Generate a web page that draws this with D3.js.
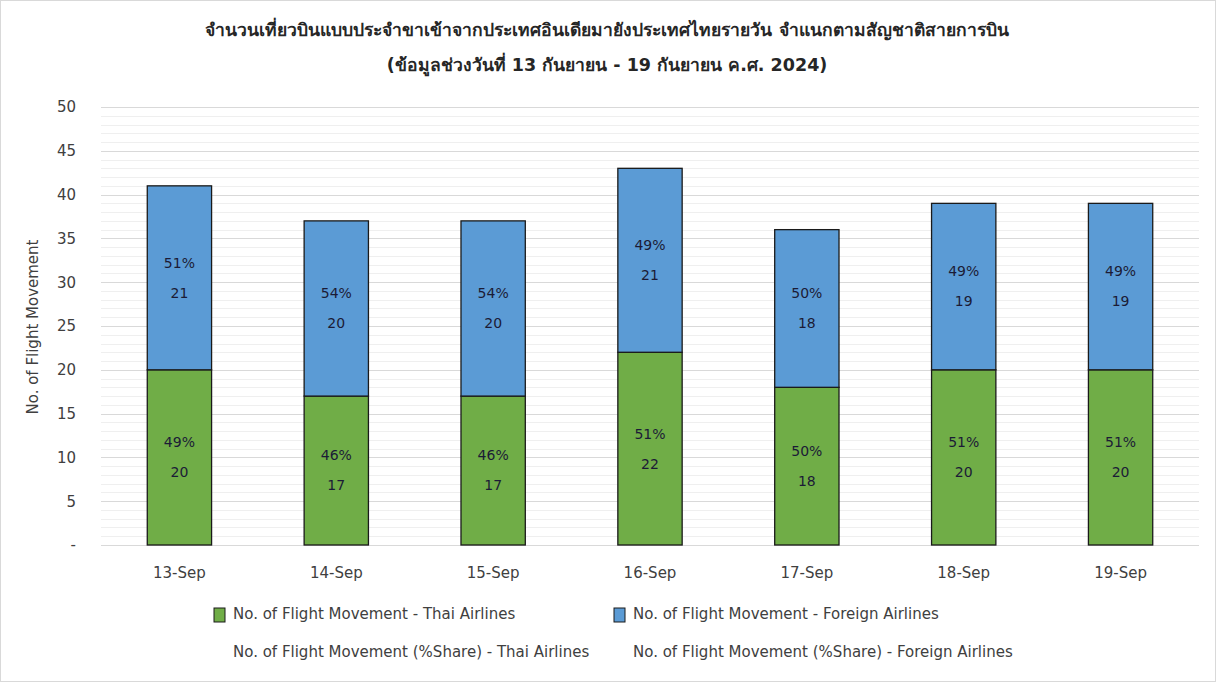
<!DOCTYPE html>
<html>
<head>
<meta charset="utf-8">
<script src="https://cdn.jsdelivr.net/npm/d3@7"></script>
<style>
  body { margin: 0; background: #fff; }
  svg { display: block; font-family: Tahoma, "DejaVu Sans", "Noto Sans", sans-serif; }
</style>
</head>
<body>
<svg width="1216" height="682"></svg>
<script>
// data
const dias = ["13-Sep", "14-Sep", "15-Sep", "16-Sep", "17-Sep", "18-Sep", "19-Sep"];
const thai = [20, 17, 17, 22, 18, 20, 20];
const foreign = [21, 20, 20, 21, 18, 19, 19];
const thaiShare = ["49%", "46%", "46%", "51%", "50%", "51%", "51%"];
const foreignShare = ["51%", "54%", "54%", "49%", "50%", "49%", "49%"];
const yTicks = [0, 5, 10, 15, 20, 25, 30, 35, 40, 45, 50];

const titulo1 = "จำนวนเที่ยวบินแบบประจำขาเข้าจากประเทศอินเดียมายังประเทศไทยรายวัน  จำแนกตามสัญชาติสายการบิน";
const titulo2 = "(ข้อมูลช่วงวันที่ 13 กันยายน - 19 กันยายน ค.ศ. 2024)";

const cores = { thai: "#70ad47", foreign: "#5b9bd5" };

const svg = d3.select("svg");
const W = 1216, H = 682;
const m = { left: 101, right: 1199, top: 107, bottom: 545 };
const fonte = "Tahoma, 'DejaVu Sans', sans-serif";

svg.append("rect").attr("x", 0.5).attr("y", 0.5).attr("width", W - 1).attr("height", H - 1)
  .attr("fill", "#fff").attr("stroke", "#d9d9d9");

const x = d3.scaleBand().domain(dias).range([m.left, m.right]).paddingInner(0.59).paddingOuter(0.295);
const y = d3.scaleLinear().domain([0, 50]).range([m.bottom, m.top]);

// grid (major every 5, minor every 1)
svg.append("g").selectAll("line").data(d3.range(0, 51))
  .join("line")
  .attr("x1", m.left).attr("x2", m.right)
  .attr("y1", d => Math.round(y(d)) + 0.5).attr("y2", d => Math.round(y(d)) + 0.5)
  .attr("stroke", d => d % 5 === 0 ? "#d9d9d9" : "#efefef")
  .attr("stroke-width", 1);

// y axis labels
const yAxis = d3.axisLeft(y).tickValues(yTicks).tickSize(0).tickPadding(0)
  .tickFormat(d => d === 0 ? "-" : d);
const gy = svg.append("g").attr("transform", `translate(76,0)`).call(yAxis);
gy.select(".domain").remove();
gy.selectAll("text").attr("font-size", 15).attr("fill", "#404040").attr("font-family", fonte);

// x axis labels
const xAxis = d3.axisBottom(x).tickSize(0).tickPadding(0);
const gx = svg.append("g").attr("transform", `translate(0,${m.bottom + 22})`).call(xAxis);
gx.select(".domain").remove();
gx.selectAll("text").attr("font-size", 15).attr("fill", "#404040").attr("font-family", fonte);

// bars
const series = [
  { key: "thai", vals: thai, share: thaiShare, base: dias.map(() => 0) },
  { key: "foreign", vals: foreign, share: foreignShare, base: thai }
];

series.forEach(s => {
  const g = svg.append("g");
  g.selectAll("rect").data(dias).join("rect")
    .attr("x", d => x(d))
    .attr("width", x.bandwidth())
    .attr("y", (d, i) => y(s.base[i] + s.vals[i]))
    .attr("height", (d, i) => y(s.base[i]) - y(s.base[i] + s.vals[i]))
    .attr("fill", cores[s.key])
    .attr("stroke", "#1a1a1a").attr("stroke-width", 1.3);

  g.selectAll("text.pct").data(dias).join("text").attr("class", "pct")
    .attr("x", d => x(d) + x.bandwidth() / 2)
    .attr("y", (d, i) => y(s.base[i] + s.vals[i] / 2) - 15)
    .attr("dy", "0.35em").attr("text-anchor", "middle")
    .attr("font-size", 14).attr("fill", "#1b1b36")
    .text((d, i) => s.share[i]);

  g.selectAll("text.val").data(dias).join("text").attr("class", "val")
    .attr("x", d => x(d) + x.bandwidth() / 2)
    .attr("y", (d, i) => y(s.base[i] + s.vals[i] / 2) + 15)
    .attr("dy", "0.35em").attr("text-anchor", "middle")
    .attr("font-size", 14).attr("fill", "#1b1b36")
    .text((d, i) => s.vals[i]);
});

// y title
svg.append("text")
  .attr("transform", `translate(38,${(m.top + m.bottom) / 2 + 1}) rotate(-90)`)
  .attr("text-anchor", "middle").attr("font-size", 15).attr("fill", "#404040")
  .text("No. of Flight Movement");

// titles
svg.append("text").attr("x", 607).attr("y", 36).attr("text-anchor", "middle")
  .attr("font-size", 17.5).attr("font-weight", "bold").attr("fill", "#262626")
  .text(titulo1);
svg.append("text").attr("x", 607).attr("y", 71).attr("text-anchor", "middle")
  .attr("font-size", 17.5).attr("font-weight", "bold").attr("fill", "#262626")
  .text(titulo2);

// legend
const legenda = [
  { x: 214, y: 614, cor: cores.thai, txt: "No. of Flight Movement - Thai Airlines" },
  { x: 614, y: 614, cor: cores.foreign, txt: "No. of Flight Movement - Foreign Airlines" },
  { x: 214, y: 652, cor: null, txt: "No. of Flight Movement (%Share) - Thai Airlines" },
  { x: 614, y: 652, cor: null, txt: "No. of Flight Movement (%Share) - Foreign Airlines" }
];
const gl = svg.append("g").selectAll("g").data(legenda).join("g");
gl.filter(d => d.cor).append("rect")
  .attr("x", d => d.x).attr("y", d => d.y - 6).attr("width", 11).attr("height", 14)
  .attr("fill", d => d.cor).attr("stroke", "#1a1a1a").attr("stroke-width", 1);
gl.append("text").attr("x", d => d.x + 19).attr("y", d => d.y).attr("dy", "0.35em")
  .attr("font-size", 15).attr("fill", "#404040").attr("font-family", fonte).text(d => d.txt);
</script>
</body>
</html>
